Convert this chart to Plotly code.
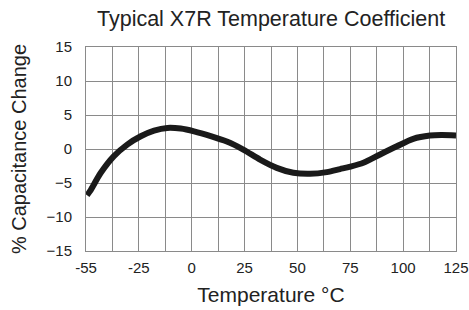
import plotly.graph_objects as go

# Axis positions (gridline coordinate system: first gridline is the -55 °C point)
temp_pos = [-49.5, -48.1, -43.0, -36.8, -30.5, -24.1, -17.8, -11.5, -5.2, 1.1, 9.0,
            16.6, 24.4, 32.3, 40.2, 48.1, 56.0, 63.9, 70.2, 75.0, 81.2, 89.1, 97.0,
            104.8, 112.7, 118.0, 125.0]
cap_change = [-6.8, -6.2, -3.5, -1.05, 0.65, 1.87, 2.7, 3.1, 3.0, 2.6, 1.9,
              1.1, -0.08, -1.55, -2.77, -3.5, -3.65, -3.4, -2.95, -2.6, -2.03, -0.8, 0.4,
              1.5, 1.97, 2.05, 2.0]

x_tickvals = [-50, -25, 0, 25, 50, 75, 100, 125]
x_ticktext = ["-55", "-25", "0", "25", "50", "75", "100", "125"]
x_minor = [-37.5, -12.5, 12.5, 37.5, 62.5, 87.5, 112.5]
y_tickvals = [-15, -10, -5, 0, 5, 10, 15]

font_family = "Liberation Sans, Arial, Helvetica, sans-serif"
grid_color = "#8a8a8a"

fig = go.Figure()
fig.add_trace(go.Scatter(
    x=temp_pos, y=cap_change, mode="lines",
    line=dict(color="#1a1a1a", width=6, shape="spline", smoothing=0.8),
    hoverinfo="skip", showlegend=False,
))

fig.update_layout(
    width=469, height=310,
    margin=dict(l=86, r=13, t=47, b=59),
    paper_bgcolor="white", plot_bgcolor="white",
    font=dict(family=font_family, color="#222222"),
    title=dict(text="Typical X7R Temperature Coefficient", x=0.578, xanchor="center",
               y=0.942, yanchor="middle", yref="container",
               font=dict(size=21.5, color="#222222")),
)

fig.update_xaxes(
    range=[-50, 125], tickvals=x_tickvals, ticktext=x_ticktext,
    showgrid=True, gridcolor=grid_color, gridwidth=1,
    minor=dict(tickvals=x_minor, showgrid=True, gridcolor=grid_color, gridwidth=1),
    showline=True, linecolor=grid_color, linewidth=1, mirror=True,
    zeroline=False, ticks="", ticklabelstandoff=3, automargin=False,
    ticklabeloverflow="allow",
    tickfont=dict(size=15, color="#222222"),
    title=dict(text="Temperature °C", font=dict(size=21, color="#222222"), standoff=12),
)
fig.update_yaxes(
    range=[-15, 15], tickvals=y_tickvals,
    showgrid=True, gridcolor=grid_color, gridwidth=1,
    showline=True, linecolor=grid_color, linewidth=1, mirror=True,
    zeroline=False, ticks="", ticklabelstandoff=10, automargin=False,
    tickfont=dict(size=15, color="#222222"),
    title=dict(text="% Capacitance Change", font=dict(size=20, color="#222222"), standoff=14),
)

fig.write_html(
    "out.html",
    config={"displayModeBar": False},
    post_script="document.body.style.margin='0';document.body.style.overflow='hidden';",
)
